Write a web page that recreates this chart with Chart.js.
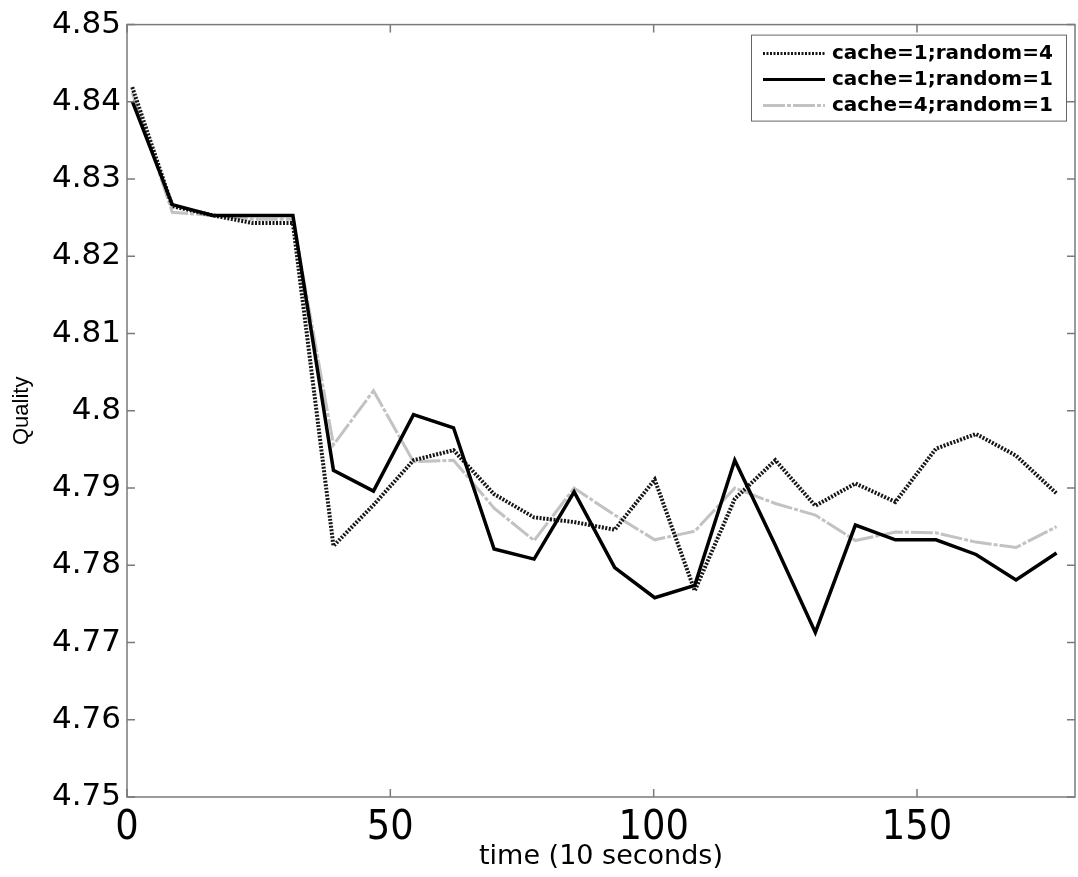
<!DOCTYPE html>
<html>
<head>
<meta charset="utf-8">
<script src="https://cdn.jsdelivr.net/npm/chart.js@4/dist/chart.umd.min.js"></script>
<style>
  html, body { margin: 0; padding: 0; background: #fff; }
</style>
</head>
<body>
<canvas id="qualityChart" width="1078" height="877"></canvas>
<script>
// time axis (units of 10 seconds)
const timeSteps = [1, 8.6, 16.3, 23.9, 31.5, 39.2, 46.8, 54.4, 62.0, 69.7, 77.3, 84.9,
                   92.6, 100.2, 107.8, 115.4, 123.1, 130.7, 138.3, 145.9, 153.6, 161.2, 168.8, 176.5];

const cache1Random4 = [4.8419, 4.8265, 4.8253, 4.8243, 4.8243, 4.7825, 4.7878, 4.7936, 4.7949, 4.7892, 4.7862, 4.7856,
                       4.7846, 4.7911, 4.7767, 4.7886, 4.7936, 4.7877, 4.7906, 4.7882, 4.7951, 4.7970, 4.7942, 4.7893];
const cache1Random1 = [4.8401, 4.8267, 4.8253, 4.8253, 4.8253, 4.7923, 4.7896, 4.7995, 4.7978, 4.7821, 4.7808, 4.7895,
                       4.7797, 4.7758, 4.7774, 4.7936, 4.7826, 4.7713, 4.7852, 4.7833, 4.7833, 4.7814, 4.7781, 4.7816];
const cache4Random1 = [4.8412, 4.8257, 4.8253, 4.8248, 4.8248, 4.7956, 4.8026, 4.7934, 4.7936, 4.7874, 4.7832, 4.7900,
                       4.7865, 4.7833, 4.7844, 4.7900, 4.7880, 4.7865, 4.7832, 4.7843, 4.7842, 4.7830, 4.7823, 4.7850];

const xTicks = [0, 50, 100, 150];
const yTicks = [4.75, 4.76, 4.77, 4.78, 4.79, 4.80, 4.81, 4.82, 4.83, 4.84, 4.85];

const toPoints = (ys) => ys.map((v, i) => ({ x: timeSteps[i], y: v }));

// frame, inward tick marks (matlab style) and the boxed legend
const matlabFrame = {
    id: 'matlabFrame',
    afterDatasetsDraw(chart) {
        const { ctx, chartArea: a, scales: { x, y } } = chart;
        ctx.save();
        ctx.strokeStyle = '#7a7a7a';
        ctx.lineWidth = 1.5;
        ctx.strokeRect(a.left, a.top, a.right - a.left, a.bottom - a.top);
        ctx.beginPath();
        x.ticks.forEach(t => {
            const px = x.getPixelForValue(t.value);
            ctx.moveTo(px, a.bottom); ctx.lineTo(px, a.bottom - 8);
            ctx.moveTo(px, a.top); ctx.lineTo(px, a.top + 8);
        });
        y.ticks.forEach(t => {
            const py = y.getPixelForValue(t.value);
            ctx.moveTo(a.left, py); ctx.lineTo(a.left + 8, py);
            ctx.moveTo(a.right, py); ctx.lineTo(a.right - 8, py);
        });
        ctx.stroke();
        ctx.restore();
    },
    afterDraw(chart) {
        const { ctx, chartArea: a } = chart;
        const w = 315, h = 86;
        const left = a.right - 9 - w, top = a.top + 10;
        ctx.save();
        ctx.fillStyle = '#fff';
        ctx.fillRect(left, top, w, h);
        ctx.strokeStyle = '#666';
        ctx.lineWidth = 1;
        ctx.strokeRect(left + 0.5, top + 0.5, w, h);
        ctx.font = 'bold 20px "DejaVu Sans", sans-serif';
        ctx.textBaseline = 'middle';
        ctx.textAlign = 'left';
        chart.data.datasets.forEach((ds, i) => {
            const rowY = top + 19 + i * 26;
            ctx.strokeStyle = ds.borderColor;
            ctx.lineWidth = Math.min(ds.borderWidth, 3);
            ctx.setLineDash(ds.borderDash || []);
            ctx.beginPath();
            ctx.moveTo(left + 12, rowY);
            ctx.lineTo(left + 74, rowY);
            ctx.stroke();
            ctx.setLineDash([]);
            ctx.fillStyle = '#000';
            ctx.fillText(ds.label, left + 81, rowY);
        });
        ctx.restore();
    }
};

const ctx = document.getElementById('qualityChart').getContext('2d');
const qualityChart = new Chart(ctx, {
    type: 'line',
    data: {
        datasets: [
            {
                label: 'cache=1;random=4',
                data: toPoints(cache1Random4),
                borderColor: '#161616',
                borderWidth: 4,
                borderDash: [2, 1.5],
                order: 1
            },
            {
                label: 'cache=1;random=1',
                data: toPoints(cache1Random1),
                borderColor: '#000000',
                borderWidth: 3.5,
                order: 0
            },
            {
                label: 'cache=4;random=1',
                data: toPoints(cache4Random1),
                borderColor: '#c2c2c2',
                borderWidth: 3,
                borderDash: [22, 2, 4, 2],
                order: 2
            }
        ]
    },
    options: {
        responsive: false,
        animation: false,
        elements: {
            point: { radius: 0, hoverRadius: 0 },
            line: { tension: 0, fill: false, borderJoinStyle: 'miter' }
        },
        layout: { padding: { top: 20, right: 3, left: 0, bottom: 0 } },
        plugins: {
            legend: { display: false },
            tooltip: { enabled: false }
        },
        scales: {
            x: {
                type: 'linear',
                min: 0,
                max: 180,
                afterBuildTicks: (scale) => { scale.ticks = xTicks.map(v => ({ value: v })); },
                afterFit: (scale) => { scale.height = 80; },
                grid: { display: false, drawTicks: false },
                border: { display: false },
                ticks: {
                    color: '#000',
                    padding: 7,
                    maxRotation: 0,
                    font: { family: '"Liberation Sans Narrow", "DejaVu Sans Condensed", sans-serif', size: 41 }
                },
                title: {
                    display: true,
                    text: 'time (10 seconds)',
                    color: '#000',
                    padding: { top: 0, bottom: 4 },
                    font: { family: '"DejaVu Sans", sans-serif', size: 27 }
                }
            },
            y: {
                type: 'linear',
                min: 4.75,
                max: 4.85,
                afterBuildTicks: (scale) => { scale.ticks = yTicks.map(v => ({ value: v })); },
                afterFit: (scale) => { scale.width = 127; },
                grid: { display: false, drawTicks: false },
                border: { display: false },
                ticks: {
                    color: '#000',
                    padding: 6,
                    font: { family: '"DejaVu Sans", sans-serif', size: 31 },
                    callback: (v) => parseFloat(Number(v).toFixed(2)).toString()
                },
                title: {
                    display: true,
                    text: 'Quality',
                    color: '#000',
                    padding: { top: 9, bottom: 0 },
                    font: { family: '"Liberation Sans", Arial, sans-serif', size: 22 }
                }
            }
        }
    },
    plugins: [matlabFrame]
});
</script>
</body>
</html>
